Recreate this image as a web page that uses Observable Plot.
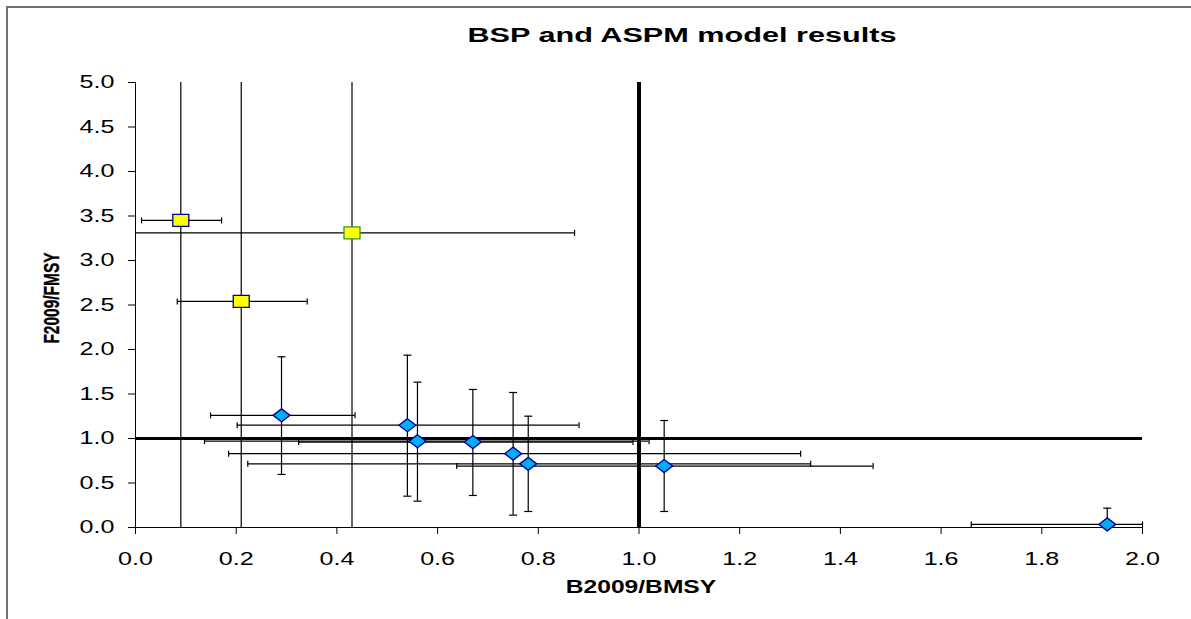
<!DOCTYPE html>
<html>
<head>
<meta charset="utf-8">
<script src="https://cdn.jsdelivr.net/npm/d3@7"></script>
<script src="https://cdn.jsdelivr.net/npm/@observablehq/plot@0.6"></script>
<style>
  body { margin: 0; background: #fff; }
  #wrap { position: relative; width: 1191px; height: 619px; overflow: hidden; background: #fff; }
  #frame { position: absolute; left: 6px; top: 6px; width: 1300px; height: 700px;
           border-top: 2px solid #707070; border-left: 2px solid #707070; }
  #plot { position: absolute; left: 0; top: 0; }
</style>
</head>
<body>
<div id="wrap"><div id="frame"></div><div id="plot"></div></div>
<script>
// ---------- data ----------
const chartTitle = "BSP and ASPM model results";
const xLabel = "B2009/BMSY";
const yLabel = "F2009/FMSY";
const xTicks = [0, 0.2, 0.4, 0.6, 0.8, 1.0, 1.2, 1.4, 1.6, 1.8, 2.0];
const yTicks = [0, 0.5, 1.0, 1.5, 2.0, 2.5, 3.0, 3.5, 4.0, 4.5, 5.0];
const refB = 1.0;   // B/BMSY = 1
const refF = 1.0;   // F/FMSY = 1

// BSP runs (yellow squares)
const bspB    = [0.09, 0.21, 0.43];
const bspF    = [3.45, 2.54, 3.31];
const bspBlo  = [0.012, 0.083, 0.0];
const bspBhi  = [0.171, 0.341, 0.872];
const bspFlo  = [0.0, 0.0, 0.0];
const bspFhi  = [5.0, 5.0, 5.0];

// ASPM runs (blue diamonds)
const aspmB   = [0.29, 0.54, 0.56, 0.67, 0.75, 0.78, 1.05, 1.93];
const aspmF   = [1.26, 1.15, 0.97, 0.96, 0.83, 0.715, 0.69, 0.035];
const aspmBlo = [0.149, 0.202, 0.137, 0.324, 0.185, 0.223, 0.638, 1.66];
const aspmBhi = [0.436, 0.881, 1.020, 0.988, 1.321, 1.341, 1.465, 2.0];
const aspmFlo = [0.596, 0.352, 0.296, 0.360, 0.139, 0.180, 0.18, 0.0];
const aspmFhi = [1.918, 1.936, 1.633, 1.551, 1.517, 1.251, 1.202, 0.217];

// ---------- tables ----------
const bsp = bspB.map((b, i) => ({b, f: bspF[i], blo: bspBlo[i], bhi: bspBhi[i], flo: bspFlo[i], fhi: bspFhi[i], i}));
const aspm = aspmB.map((b, i) => ({b, f: aspmF[i], blo: aspmBlo[i], bhi: aspmBhi[i], flo: aspmFlo[i], fhi: aspmFhi[i], i}));

const xMin = xTicks[0], xMax = xTicks[xTicks.length - 1];
const yMin = yTicks[0], yMax = yTicks[yTicks.length - 1];

// ---------- symbols ----------
const rectSym = {draw(ctx) { ctx.moveTo(-8, -6); ctx.lineTo(8, -6); ctx.lineTo(8, 6); ctx.lineTo(-8, 6); ctx.closePath(); }};
const diamondSym = {draw(ctx) { ctx.moveTo(0, -6.5); ctx.lineTo(8.5, 0); ctx.lineTo(0, 6.5); ctx.lineTo(-8.5, 0); ctx.closePath(); }};
const vCap = {draw(ctx) { ctx.moveTo(0, -3); ctx.lineTo(0, 3); }};
const hCap = {draw(ctx) { ctx.moveTo(-4, 0); ctx.lineTo(4, 0); }};

const barStyle = {stroke: "#000", strokeWidth: 1.2, clip: true};
const capStyle = {fill: "none", stroke: "#000", strokeWidth: 1.2};

const hCapsBsp = bsp.flatMap(d => [{b: d.blo, f: d.f}, {b: d.bhi, f: d.f}]).filter(c => c.b > xMin && c.b <= xMax);
const hCapsAspm = aspm.flatMap(d => [{b: d.blo, f: d.f}, {b: d.bhi, f: d.f}]).filter(c => c.b > xMin && c.b <= xMax);
const vCapsAspm = aspm.flatMap(d => [{b: d.b, f: d.flo}, {b: d.b, f: d.fhi}]).filter(c => c.f > yMin && c.f < yMax);

const plot = Plot.plot({
  width: 1191,
  height: 619,
  marginLeft: 135,
  marginRight: 49,
  marginTop: 82,
  marginBottom: 92,
  style: {fontFamily: "'Liberation Sans', Arial, sans-serif", fontSize: "18.6px", color: "#000", background: "transparent", overflow: "visible"},
  x: {domain: [xMin, xMax], ticks: xTicks, tickFormat: d => d.toFixed(1), label: null, tickSize: 7, tickPadding: 17},
  y: {domain: [yMin, yMax], ticks: yTicks, tickFormat: d => d.toFixed(1), label: null, tickSize: 7, tickPadding: 14},
  color: {type: "identity"},
  marks: [
    Plot.ruleX([xMin], {stroke: "#000", strokeWidth: 1}),
    Plot.ruleY([yMin], {stroke: "#000", strokeWidth: 1}),
    Plot.ruleX([refB], {stroke: "#000", strokeWidth: 4}),
    Plot.ruleY([refF], {stroke: "#000", strokeWidth: 3}),
    // BSP error bars
    Plot.ruleX(bsp, {x: "b", y1: "flo", y2: "fhi", ...barStyle}),
    Plot.ruleY(bsp, {y: "f", x1: "blo", x2: "bhi", ...barStyle}),
    Plot.dot(hCapsBsp, {x: "b", y: "f", ...capStyle, symbol: vCap}),
    // ASPM error bars
    Plot.ruleY(aspm, {y: "f", x1: "blo", x2: "bhi", ...barStyle}),
    Plot.dot(hCapsAspm, {x: "b", y: "f", ...capStyle, symbol: vCap}),
    Plot.ruleX(aspm, {x: "b", y1: "flo", y2: "fhi", ...barStyle}),
    Plot.dot(vCapsAspm, {x: "b", y: "f", ...capStyle, symbol: hCap}),
    // markers
    Plot.dot(aspm, {x: "b", y: "f", symbol: diamondSym, fill: "#00AEEF", stroke: "#000099", strokeWidth: 1.3}),
    Plot.dot(bsp, {x: "b", y: "f", symbol: rectSym, fill: "#FFFF00", stroke: d => d.i === 2 ? "#2E9A2E" : "#000099", strokeWidth: 1.3})
  ]
});

document.getElementById("plot").appendChild(plot);

// the source chart is horizontally stretched: stretch tick labels too
plot.querySelectorAll("text").forEach(t => {
  const w = t.getComputedTextLength();
  if (w > 0) {
    t.setAttribute("textLength", (w * 1.35).toFixed(2));
    t.setAttribute("lengthAdjust", "spacingAndGlyphs");
  }
});

const svg = d3.select(plot);
svg.append("text")
  .attr("transform", "translate(682,42) scale(1.46,1)")
  .attr("text-anchor", "middle")
  .attr("font-weight", "bold")
  .attr("font-size", 21)
  .attr("fill", "#000")
  .text(chartTitle);
svg.append("text")
  .attr("transform", "translate(641,593) scale(1.39,1)")
  .attr("text-anchor", "middle")
  .attr("font-weight", "bold")
  .attr("font-size", 17.7)
  .attr("fill", "#000")
  .text(xLabel);
svg.append("text")
  .attr("transform", "translate(58.5,298) scale(1.38,1) rotate(-90)")
  .attr("text-anchor", "middle")
  .attr("font-weight", "bold")
  .attr("font-size", 15.5)
  .attr("fill", "#000")
  .attr("stroke", "#000")
  .attr("stroke-width", 0.25)
  .text(yLabel);
</script>
</body>
</html>
